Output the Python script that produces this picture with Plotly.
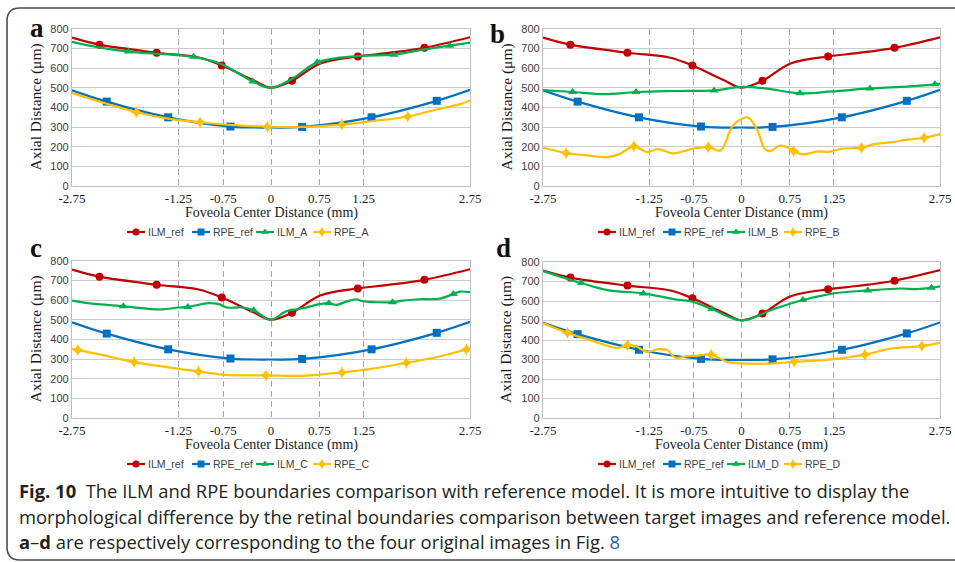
import plotly.graph_objects as go

W, H = 955, 562

# ---------------- axis ticks ----------------
X_TICK_POS = [-2.75, -1.28, -0.66, 0.0, 0.67, 1.28, 2.75]
X_TICK_TEXT = ["-2.75", "-1.25", "-0.75", "0", "0.75", "1.25", "2.75"]
Y_TICKS = [0, 100, 200, 300, 400, 500, 600, 700, 800]

# ---------------- reference boundaries (shared) ----------------
ILM_REF_X = [-2.75, -2.37, -1.58, -1.0, -0.68, -0.25, 0.0, 0.29, 0.68, 1.2, 1.6, 2.12, 2.75]
ILM_REF_Y = [756, 720, 679, 655, 614, 540, 501, 536, 624, 660, 677, 704, 758]
ILM_REF_M = [0, 1, 1, 0, 1, 0, 0, 1, 0, 1, 0, 1, 0]

RPE_REF_X = [-2.75, -2.27, -1.42, -0.56, 0.0, 0.43, 1.39, 2.29, 2.75]
RPE_REF_Y = [488, 430, 350, 303, 298, 301, 350, 434, 490]
RPE_REF_M = [0, 1, 1, 1, 0, 1, 1, 1, 0]

# ---------------- image A ----------------
ILM_A_X = [-2.75, -2.4, -1.97, -1.07, -0.69, -0.25, 0.0, 0.3, 0.64, 1.2, 1.7, 2.1, 2.47, 2.75]
ILM_A_Y = [735, 708, 685, 658, 622, 533, 500, 548, 630, 662, 669, 695, 715, 731]
ILM_A_M = [0, 0, 1, 1, 0, 1, 0, 0, 1, 0, 1, 0, 1, 0]

RPE_A_X = [-2.75, -2.27, -1.86, -1.42, -0.98, -0.5, -0.05, 0.45, 0.98, 1.39, 1.89, 2.29, 2.6, 2.75]
RPE_A_Y = [474, 419, 376, 343, 325, 310, 302, 301, 313, 330, 354, 390, 416, 436]
RPE_A_M = [0, 0, 1, 0, 1, 0, 1, 0, 1, 0, 1, 0, 0, 0]

# ---------------- image B ----------------
ILM_B_X = [-2.75, -2.34, -1.9, -1.46, -0.9, -0.38, 0.0, 0.35, 0.81, 1.25, 1.78, 2.2, 2.68, 2.75]
ILM_B_Y = [489, 479, 468, 479, 484, 487, 505, 496, 472, 482, 497, 505, 518, 522]
ILM_B_M = [0, 1, 0, 1, 0, 1, 0, 0, 1, 0, 1, 0, 1, 0]

RPE_B_X = [-2.75, -2.43, -2.14, -1.86, -1.70, -1.49, -1.31, -1.15, -0.96, -0.80, -0.66,
           -0.46, -0.29, -0.13, 0.01, 0.10, 0.22, 0.32, 0.40, 0.52, 0.63, 0.72, 0.86,
           1.05, 1.21, 1.40, 1.66, 1.83, 2.07, 2.30, 2.53, 2.75]
RPE_B_Y = [195, 168, 156, 147, 161, 202, 173, 188, 166, 178, 191,
           198, 181, 301, 344, 347, 284, 190, 178, 205, 198, 178, 161,
           176, 174, 190, 195, 212, 222, 236, 246, 263]
RPE_B_M = [0, 1, 0, 0, 0, 1, 0, 0, 0, 0, 0,
           1, 0, 0, 0, 0, 0, 0, 0, 0, 0, 1, 0,
           0, 0, 0, 1, 0, 0, 0, 1, 0]

# ---------------- image C ----------------
ILM_C_X = [-2.75, -2.53, -2.04, -1.51, -1.28, -1.15, -0.86, -0.72, -0.61, -0.40, -0.24, 0.0,
           0.2, 0.44, 0.67, 0.8, 0.9, 1.04, 1.18, 1.27, 1.68, 1.82, 2.06, 2.33, 2.52, 2.61, 2.75]
ILM_C_Y = [598, 585, 569, 553, 563, 566, 585, 580, 563, 563, 549, 500,
           542, 559, 580, 585, 576, 593, 605, 595, 590, 598, 605, 608, 632, 644, 641]
ILM_C_M = [0, 0, 1, 0, 0, 1, 0, 0, 0, 0, 1, 0,
           0, 0, 0, 1, 0, 0, 0, 0, 1, 0, 0, 0, 1, 0, 0]

RPE_C_X = [-2.75, -2.67, -2.34, -1.89, -1.42, -1.0, -0.63, -0.07, 0.44, 0.98, 1.36, 1.87, 2.3, 2.7, 2.75]
RPE_C_Y = [353, 347, 322, 285, 258, 237, 220, 217, 215, 232, 249, 281, 311, 349, 353]
RPE_C_M = [0, 1, 0, 1, 0, 1, 0, 1, 0, 1, 0, 1, 0, 1, 0]

# ---------------- image D ----------------
ILM_D_X = [-2.75, -2.22, -1.86, -1.36, -0.94, -0.68, -0.41, 0.0, 0.45, 0.85, 1.28, 1.75, 2.2, 2.44, 2.63, 2.75]
ILM_D_Y = [754, 692, 656, 639, 610, 597, 559, 501, 559, 605, 639, 654, 664, 661, 668, 675]
ILM_D_M = [0, 1, 0, 1, 0, 0, 1, 0, 0, 1, 0, 1, 0, 0, 1, 0]

RPE_D_X = [-2.75, -2.41, -2.09, -1.72, -1.58, -1.47, -1.31, -1.15, -1.03, -0.92, -0.75, -0.62,
           -0.42, -0.20, -0.01, 0.45, 0.73, 1.28, 1.71, 2.07, 2.50, 2.75]
RPE_D_Y = [486, 437, 398, 359, 373, 369, 339, 353, 349, 310, 317, 319,
           325, 288, 280, 280, 288, 302, 325, 356, 369, 385]
RPE_D_M = [0, 1, 0, 0, 1, 0, 0, 0, 0, 0, 0, 0,
           1, 0, 0, 0, 1, 0, 1, 0, 1, 0]

# ---------------- styles ----------------
RED, BLUE, GREEN, YELLOW = "#C00000", "#0070C0", "#00B050", "#FFC000"
STYLE = {
    "ILM_ref": (RED, "circle", 8),
    "RPE_ref": (BLUE, "square", 8),
    "ILM": (GREEN, "triangle-up", 8),
    "RPE": (YELLOW, "star-diamond", 9),
}

PANELS = [
    # label, suffix, ILM data, RPE data, plot box in px (left, right, top, bottom)
    ("a", "A", (ILM_A_X, ILM_A_Y, ILM_A_M), (RPE_A_X, RPE_A_Y, RPE_A_M), (72, 470, 29, 186)),
    ("b", "B", (ILM_B_X, ILM_B_Y, ILM_B_M), (RPE_B_X, RPE_B_Y, RPE_B_M), (543, 940, 29, 186)),
    ("c", "C", (ILM_C_X, ILM_C_Y, ILM_C_M), (RPE_C_X, RPE_C_Y, RPE_C_M), (72, 470, 261, 418)),
    ("d", "D", (ILM_D_X, ILM_D_Y, ILM_D_M), (RPE_D_X, RPE_D_Y, RPE_D_M), (543, 940, 262, 418)),
]

SERIF = "Liberation Serif, Times New Roman, serif"
SANS = "Liberation Sans, Arial, sans-serif"
TXT = "#404040"

fig = go.Figure()
annotations = []
shapes = []


def add_series(x, y, m, key, xa, ya):
    color, symbol, size = STYLE[key]
    fig.add_trace(go.Scatter(
        x=x, y=y, mode="lines", line=dict(color=color, width=2.2, shape="spline", smoothing=1.0),
        xaxis=xa, yaxis=ya, showlegend=False, hoverinfo="skip"))
    mx = [xx for xx, f in zip(x, m) if f]
    my = [yy for yy, f in zip(y, m) if f]
    fig.add_trace(go.Scatter(
        x=mx, y=my, mode="markers",
        marker=dict(color=color, symbol=symbol, size=size, line=dict(width=0)),
        xaxis=xa, yaxis=ya, showlegend=False, hoverinfo="skip"))


LEG_OFFS = [0, 65, 129, 186]

for i, (lab, suf, ilm, rpe, box) in enumerate(PANELS):
    n = i + 1
    xa = "x" if n == 1 else f"x{n}"
    ya = "y" if n == 1 else f"y{n}"
    L, R, T, B = box
    add_series(ILM_REF_X, ILM_REF_Y, ILM_REF_M, "ILM_ref", xa, ya)
    add_series(RPE_REF_X, RPE_REF_Y, RPE_REF_M, "RPE_ref", xa, ya)
    add_series(*ilm, "ILM", xa, ya)
    add_series(*rpe, "RPE", xa, ya)

    xkey = "xaxis" if n == 1 else f"xaxis{n}"
    ykey = "yaxis" if n == 1 else f"yaxis{n}"
    fig.update_layout(**{
        xkey: dict(domain=[L / W, R / W], anchor=ya, range=[-2.75, 2.75], automargin=False,
                   tickmode="array", tickvals=X_TICK_POS, ticktext=X_TICK_TEXT,
                   showgrid=True, gridcolor="#a6a6a6", griddash="6px,4px", gridwidth=1,
                   showline=True, linecolor="#bfbfbf", linewidth=1.2, mirror=True,
                   zeroline=False, ticks="", tickfont=dict(family=SERIF, size=13, color="#1a1a1a")),
        ykey: dict(domain=[1 - B / H, 1 - T / H], anchor=xa, range=[0, 800], automargin=False,
                   tickmode="array", tickvals=Y_TICKS,
                   showgrid=True, gridcolor="#cccccc", gridwidth=1.3,
                   showline=True, linecolor="#bfbfbf", linewidth=1.2, mirror=True,
                   zeroline=False, ticks="", tickfont=dict(family=SANS, size=11, color=TXT)),
    })

    # panel label
    lab_pos = {"a": (37, 28), "b": (497, 34), "c": (36, 248), "d": (503, 248)}[lab]
    annotations.append(dict(x=lab_pos[0] / W, y=1 - lab_pos[1] / H, xref="paper", yref="paper",
                            text=f"<b>{lab}</b>", showarrow=False, xanchor="center", yanchor="middle",
                            font=dict(family=SERIF, size=27, color="#111111")))
    # axis titles
    annotations.append(dict(x=(L + R) / 2 / W, y=1 - (B + 27) / H, xref="paper", yref="paper",
                            text="Foveola Center Distance (mm)", showarrow=False,
                            xanchor="center", yanchor="middle",
                            font=dict(family=SERIF, size=14, color="#1a1a1a")))
    annotations.append(dict(x=(L - 37) / W, y=1 - (T + B) / 2 / H, xref="paper", yref="paper",
                            text="Axial Distance (μm)", showarrow=False, textangle=-90,
                            xanchor="center", yanchor="middle",
                            font=dict(family=SERIF, size=15.5, color="#1a1a1a")))

    # legend (drawn on a pixel overlay axis)
    lx0 = L + 55
    ly = B + 46
    names = ["ILM_ref", "RPE_ref", f"ILM_{suf}", f"RPE_{suf}"]
    keys = ["ILM_ref", "RPE_ref", "ILM", "RPE"]
    for off, nm, k in zip(LEG_OFFS, names, keys):
        color, symbol, size = STYLE[k]
        x0 = lx0 + off
        fig.add_trace(go.Scatter(x=[x0, x0 + 18], y=[ly, ly], mode="lines",
                                 line=dict(color=color, width=2.2), xaxis="x5", yaxis="y5",
                                 showlegend=False, hoverinfo="skip"))
        fig.add_trace(go.Scatter(x=[x0 + 9], y=[ly], mode="markers",
                                 marker=dict(color=color, symbol=symbol, size=size - 1),
                                 xaxis="x5", yaxis="y5", showlegend=False, hoverinfo="skip"))
        annotations.append(dict(x=x0 + 19, y=ly, xref="x5", yref="y5", text=nm, showarrow=False,
                                xanchor="left", yanchor="middle",
                                font=dict(family=SANS, size=10.5, color=TXT)))

fig.update_layout(
    xaxis5=dict(domain=[0, 1], range=[0, W], visible=False, anchor="y5", fixedrange=True,
                automargin=False),
    yaxis5=dict(domain=[0, 1], range=[H, 0], visible=False, anchor="x5", fixedrange=True,
                automargin=False),
)

# caption
CAP = "Open Sans, Noto Sans, sans-serif"
CAP_LINES = [
    "<b>Fig. 10</b>  The ILM and RPE boundaries comparison with reference model. It is more intuitive to display the",
    "morphological difference by the retinal boundaries comparison between target images and reference model.",
    "<b>a</b>–<b>d</b> are respectively corresponding to the four original images in Fig. <span style='color:#2f5fa7'>8</span>",
]
for j, t in enumerate(CAP_LINES):
    annotations.append(dict(x=17 / W, y=1 - (490.5 + 25.5 * j) / H, xref="paper", yref="paper",
                            text=t, showarrow=False, xanchor="left", yanchor="middle",
                            font=dict(family=CAP, size=18.4, color="#231f20")))

# rounded frame
def px(x, y):
    return f"{x / W:.5f},{1 - y / H:.5f}"

r = 13
fl, ft, fr, fb = 7, 8, 975, 560
path = (f"M {px(fl + r, ft)} L {px(fr - r, ft)} Q {px(fr, ft)} {px(fr, ft + r)} "
        f"L {px(fr, fb - r)} Q {px(fr, fb)} {px(fr - r, fb)} L {px(fl + r, fb)} "
        f"Q {px(fl, fb)} {px(fl, fb - r)} L {px(fl, ft + r)} Q {px(fl, ft)} {px(fl + r, ft)} Z")
shapes.append(dict(type="path", xref="paper", yref="paper", path=path,
                   line=dict(color="#4d4d4d", width=1.6), layer="above"))

fig.update_layout(
    width=W, height=H, margin=dict(l=0, r=0, t=0, b=0, pad=0, autoexpand=False),
    paper_bgcolor="white", plot_bgcolor="rgba(0,0,0,0)",
    annotations=annotations, shapes=shapes, showlegend=False,
)

fig.write_html("out.html", config={"displayModeBar": False},
               post_script="document.body.style.margin='0';document.body.style.overflow='hidden';")
